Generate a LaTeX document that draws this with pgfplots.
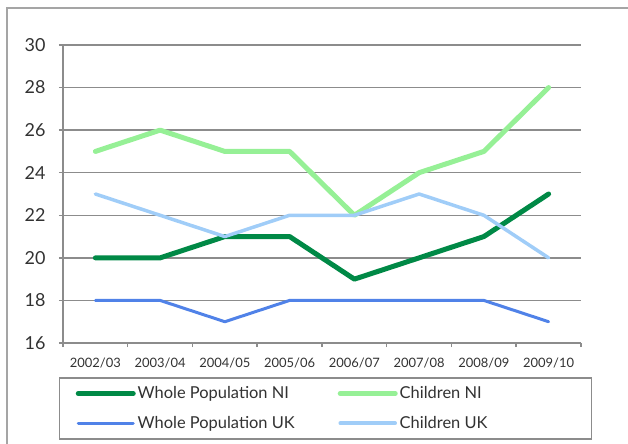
\documentclass[border=0pt]{standalone}
\usepackage{pgfplots}
\pgfplotsset{compat=1.18}
\usepackage{fontspec}
\setmainfont{Lato}
\definecolor{dkgreen}{RGB}{0,137,70}
\definecolor{ltgreen}{RGB}{150,240,150}
\definecolor{ukblue}{RGB}{80,130,232}
\definecolor{ltblue}{RGB}{160,205,248}
\definecolor{gridgray}{RGB}{140,140,140}
\definecolor{framegray}{RGB}{165,165,165}
\definecolor{txt}{RGB}{50,50,50}
\begin{document}
\begin{tikzpicture}
\useasboundingbox (0,0) rectangle (628bp,444bp);
\draw[framegray, line width=2bp] (7bp,0) -- (7bp,436bp) -- (628bp,436bp);
\begin{axis}[
  at={(63bp,101bp)}, anchor=south west,
  scale only axis, width=518bp, height=298bp,
  xmin=-0.5, xmax=7.5, ymin=16, ymax=30,
  xtick={-0.5,0.5,...,7.5},
  x tick label as interval,
  xticklabels={2002/03,2003/04,2004/05,2005/06,2006/07,2007/08,2008/09,2009/10},
  ytick={16,18,...,30},
  axis x line*=bottom, axis y line*=left,
  axis line style={gridgray, line width=1.5bp, -},
  ymajorgrids, grid style={gridgray, line width=1.5bp},
  tick align=outside, major tick length=4bp,
  tick style={gridgray, line width=1.5bp},
  yticklabel style={font=\fontsize{18}{21}\selectfont, text=txt, xshift=-10bp},
  xticklabel style={font=\fontsize{13}{15}\selectfont, text=txt, yshift=-7bp},
  /pgf/number format/assume math mode=true,
  legend columns=2,
  legend cell align=left,
  legend style={at={(0,0)}, anchor=north west, xshift=-4bp, yshift=-34bp,
    draw=gridgray, line width=1.5bp,
    font=\fontsize{16.5}{19}\selectfont, text=txt,
    inner xsep=16bp, inner ysep=7bp,
    nodes={line width=0.2pt},
    /tikz/every even column/.append style={column sep=23bp},
    /tikz/row sep=12bp},
  legend image code/.code={\draw[#1] (0bp,0bp) -- (55bp,0bp);},
]
\addplot[dkgreen, line width=5bp, line join=round, line cap=round] coordinates {(0,20) (1,20) (2,21) (3,21) (4,19) (5,20) (6,21) (7,23)};
\addlegendentry{\makebox[175bp][l]{Whole Population NI}}
\addplot[ltgreen, line width=5bp, line join=round, line cap=round] coordinates {(0,25) (1,26) (2,25) (3,25) (4,22) (5,24) (6,25) (7,28)};
\addlegendentry{\makebox[174bp][l]{Children NI}}
\addplot[ukblue, line width=3bp, line join=round, line cap=round] coordinates {(0,18) (1,18) (2,17) (3,18) (4,18) (5,18) (6,18) (7,17)};
\addlegendentry{\makebox[175bp][l]{Whole Population UK}}
\addplot[ltblue, line width=3.5bp, line join=round, line cap=round] coordinates {(0,23) (1,22) (2,21) (3,22) (4,22) (5,23) (6,22) (7,20)};
\addlegendentry{\makebox[174bp][l]{Children UK}}
\end{axis}
\end{tikzpicture}
\end{document}
